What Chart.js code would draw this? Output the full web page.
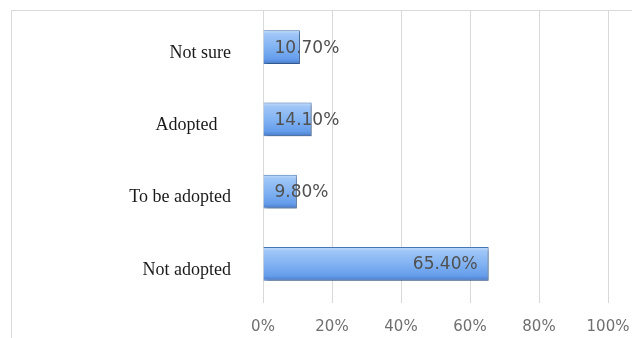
<!DOCTYPE html>
<html>
<head>
<meta charset="utf-8">
<script src="https://cdn.jsdelivr.net/npm/chart.js@4"></script>
<style>
    html, body { margin: 0; padding: 0; background: #ffffff; }
    #wrap { position: relative; width: 632px; height: 338px; }
    #frame {
        position: absolute; left: 11px; top: 10px; right: 0; bottom: 0;
        border-top: 1px solid #d9d9d9; border-left: 1px solid #d9d9d9;
        pointer-events: none;
    }
</style>
</head>
<body>
<div id="wrap">
    <canvas id="chart" width="632" height="338"></canvas>
    <div id="frame"></div>
</div>
<script>
// --- Data ---
const categories = ["Not sure", "Adopted   ", "To be adopted", "Not adopted"];
const shares = [10.7, 14.1, 9.8, 65.4];
const tickValues = [0, 20, 40, 60, 80, 100];

const BAR_PCT = 0.47;

// Bevel-like vertical gradient for each bar
function barFill(context) {
    const chart = context.chart;
    const area = chart.chartArea;
    if (!area) return "#7aaaea";
    const yScale = chart.scales.y;
    const cy = yScale.getPixelForValue(context.dataIndex);
    const half = (area.bottom - area.top) / categories.length * BAR_PCT / 2;
    const g = chart.ctx.createLinearGradient(0, cy - half, 0, cy + half);
    g.addColorStop(0, "#c4ddfb");
    g.addColorStop(0.12, "#9fc6f7");
    g.addColorStop(0.5, "#82b3f2");
    g.addColorStop(0.85, "#659deb");
    g.addColorStop(1, "#4879c9");
    return g;
}

// Soft shadow under the bars
const shadowPlugin = {
    id: "barShadow",
    beforeDatasetsDraw(chart) {
        const ctx = chart.ctx;
        ctx.save();
        ctx.shadowColor = "rgba(0, 0, 0, 0.35)";
        ctx.shadowBlur = 3;
        ctx.shadowOffsetX = 2;
        ctx.shadowOffsetY = 2;
    },
    afterDatasetsDraw(chart) {
        chart.ctx.restore();
    }
};

// Value labels, Excel "inside end" style
const valueLabels = {
    id: "valueLabels",
    afterDraw(chart) {
        const ctx = chart.ctx;
        const meta = chart.getDatasetMeta(0);
        ctx.save();
        ctx.font = "17px 'DejaVu Sans'";
        ctx.fillStyle = "#505050";
        ctx.textBaseline = "middle";
        meta.data.forEach((bar, i) => {
            const text = shares[i].toFixed(2) + "%";
            const w = ctx.measureText(text).width;
            if (bar.x - bar.base - 22 >= w) {
                ctx.textAlign = "right";
                ctx.fillText(text, bar.x - 11, bar.y + 1);
            } else {
                ctx.textAlign = "left";
                ctx.fillText(text, bar.base + 11, bar.y + 1);
            }
        });
        ctx.restore();
    }
};

new Chart(document.getElementById("chart"), {
    type: "bar",
    data: {
        labels: categories,
        datasets: [{
            data: shares,
            backgroundColor: barFill,
            borderColor: "#4477bb",
            borderWidth: 1,
            barPercentage: BAR_PCT,
            categoryPercentage: 1
        }]
    },
    options: {
        indexAxis: "y",
        responsive: false,
        animation: false,
        layout: { padding: { top: 11, right: 24, left: 0, bottom: 0 } },
        plugins: {
            legend: { display: false },
            tooltip: { enabled: false }
        },
        scales: {
            x: {
                min: 0,
                max: 100,
                afterBuildTicks: scale => {
                    scale.ticks = tickValues.map(v => ({ value: v }));
                },
                afterFit: scale => {
                    scale.height = 38;
                    scale.paddingLeft = 0;
                    scale.paddingRight = 0;
                },
                grid: { color: "#d9d9d9", tickLength: 3, drawTicks: true },
                border: { display: false },
                ticks: {
                    padding: 15,
                    color: "#6f6f6f",
                    font: { family: "'DejaVu Sans'", size: 15 },
                    callback: v => v + "%"
                }
            },
            y: {
                afterFit: scale => {
                    scale.width = 263;
                    scale.paddingTop = 0;
                    scale.paddingBottom = 0;
                },
                grid: { display: false },
                border: { display: false },
                ticks: {
                    padding: 24,
                    labelOffset: 6,
                    color: "#1a1a1a",
                    font: { family: "'Liberation Serif'", size: 18 }
                }
            }
        }
    },
    plugins: [shadowPlugin, valueLabels]
});
</script>
</body>
</html>
